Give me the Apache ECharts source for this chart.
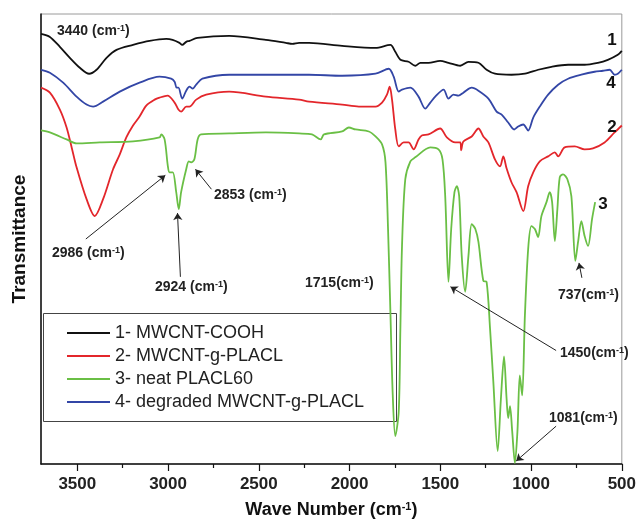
<!DOCTYPE html>
<html>
<head>
<meta charset="utf-8">
<script src="https://cdn.jsdelivr.net/npm/echarts@6/dist/echarts.min.js"></script>
<style>
html, body { margin: 0; padding: 0; background: #fff; }
#main { width: 639px; height: 524px; }
</style>
</head>
<body>
<div id="main"></div>
<script>
// FTIR spectra, x = wave number (cm-1), y = transmittance (arbitrary units, offset traces)
var seriesNames = ['1- MWCNT-COOH', '2- MWCNT-g-PLACL', '3- neat PLACL60', '4- degraded MWCNT-g-PLACL'];
var seriesColors = ['#111111', '#e3262b', '#6abf45', '#3346a6'];

var majorTicks = [500, 1000, 1500, 2000, 2500, 3000, 3500];
var minorTicks = [750, 1250, 1750, 2250, 2750, 3250];

var mwcntCooh = [
    [3700, 432], [3651, 429], [3596, 419], [3541, 408], [3486, 398], [3435, 392], [3394, 396],
    [3339, 408], [3284, 416], [3193, 421], [3102, 425], [3010, 427], [2975, 426], [2937, 423],
    [2922, 421], [2900, 424], [2882, 425], [2838, 428], [2663, 430], [2461, 426], [2351, 423],
    [2315, 422], [2278, 423], [2223, 423], [2041, 420], [1857, 418], [1775, 421], [1748, 414],
    [1720, 406], [1675, 404], [1638, 400], [1610, 403], [1565, 403], [1501, 405], [1455, 403],
    [1390, 400], [1345, 404], [1290, 403], [1245, 396], [1199, 392], [1108, 391], [1034, 392],
    [961, 396], [888, 399], [796, 401], [705, 401], [632, 403], [577, 406], [522, 411], [500, 415]
];

var mwcntGPlacl = [
    [3700, 378], [3651, 373], [3596, 356], [3559, 338], [3531, 318], [3504, 298], [3449, 266],
    [3404, 249], [3358, 266], [3303, 296], [3266, 311], [3230, 328], [3193, 340], [3157, 349],
    [3120, 360], [3074, 366], [3047, 368], [3003, 370], [2964, 363], [2943, 356], [2928, 354],
    [2900, 359], [2882, 359], [2845, 366], [2790, 371], [2663, 374], [2461, 369], [2278, 366],
    [2223, 364], [2041, 361], [1949, 359], [1857, 359], [1821, 363], [1794, 371], [1779, 379],
    [1766, 366], [1748, 336], [1729, 319], [1702, 323], [1675, 323], [1647, 316], [1620, 326],
    [1602, 330], [1565, 331], [1501, 337], [1464, 328], [1418, 323], [1390, 323], [1385, 315],
    [1373, 324], [1327, 329], [1290, 337], [1263, 329], [1235, 323], [1199, 306], [1171, 299],
    [1153, 309], [1135, 297], [1108, 283], [1080, 273], [1043, 254], [1016, 279], [988, 293],
    [952, 304], [906, 309], [869, 313], [851, 309], [815, 318], [759, 319], [705, 316],
    [659, 317], [595, 323], [540, 333], [500, 340]
];

var neatPlacl60 = [
    [3700, 335], [3651, 333], [3559, 326], [3504, 322], [3376, 323], [3193, 324], [3047, 328],
    [3037, 331], [3019, 326], [3001, 299], [2992, 293], [2974, 293], [2955, 273], [2941, 256],
    [2928, 273], [2900, 296], [2886, 304], [2873, 303], [2855, 306], [2837, 326], [2818, 331],
    [2663, 332], [2461, 333], [2278, 332], [2207, 331], [2159, 326], [2141, 331], [2041, 334],
    [2004, 338], [1967, 336], [1894, 334], [1857, 329], [1821, 321], [1802, 303], [1788, 236],
    [1775, 153], [1762, 69], [1748, 28], [1729, 53], [1720, 136], [1711, 219], [1693, 286],
    [1665, 304], [1638, 308], [1555, 318], [1510, 316], [1488, 306], [1473, 269], [1455, 183],
    [1440, 236], [1422, 273], [1409, 279], [1396, 269], [1382, 209], [1363, 173], [1345, 209],
    [1327, 241], [1307, 236], [1290, 223], [1263, 184], [1245, 183], [1226, 136], [1208, 83],
    [1184, 13], [1166, 66], [1149, 108], [1135, 66], [1126, 46], [1116, 58], [1104, 33],
    [1089, 1], [1075, 33], [1062, 89], [1049, 69], [1034, 149], [1016, 216], [998, 239],
    [979, 236], [961, 228], [943, 249], [915, 263], [897, 273], [884, 263], [869, 224],
    [855, 256], [842, 288], [824, 291], [800, 286], [778, 269], [756, 204], [741, 223],
    [723, 244], [705, 229], [686, 219], [664, 246], [647, 263]
];

var degradedMwcnt = [
    [3700, 396], [3651, 393], [3578, 383], [3504, 369], [3449, 361], [3413, 359], [3358, 364],
    [3266, 374], [3157, 383], [3047, 389], [2983, 387], [2964, 384], [2953, 378], [2943, 378],
    [2922, 367], [2900, 375], [2882, 379], [2864, 377], [2845, 381], [2811, 387], [2663, 391],
    [2223, 391], [2041, 390], [1857, 392], [1784, 397], [1757, 389], [1729, 374], [1711, 376],
    [1665, 378], [1620, 369], [1583, 357], [1555, 363], [1528, 369], [1482, 376], [1455, 367],
    [1428, 371], [1400, 370], [1373, 373], [1327, 378], [1290, 375], [1235, 367], [1190, 354],
    [1162, 351], [1126, 343], [1093, 336], [1071, 339], [1043, 341], [1016, 335], [988, 348],
    [952, 359], [906, 371], [851, 381], [796, 387], [723, 391], [650, 394], [604, 395],
    [567, 396], [540, 391], [522, 392], [500, 396]
];

// peak arrows: tail -> head, in data units
var arrowTails = [[3453, 226], [2932, 188], [2761, 276], [862, 114], [862, 38], [720, 187]];
var arrowHeads = [[3015, 290], [2948, 252], [2849, 296], [1444, 178], [1082, 3], [736, 202]];

var peakLabels = ['3440 (cm', '2986 (cm', '2924 (cm', '2853 (cm', '1715(cm', '1450(cm', '1081(cm', '737(cm'];
var curveNumbers = ['1', '4', '2', '3'];

var FONT = '"Liberation Sans", Arial, Helvetica, sans-serif';

var chart = echarts.init(document.getElementById('main'));

var arrowData = arrowTails.map(function (t, i) {
    return [{ coord: t }, { coord: arrowHeads[i] }];
});

function peakText(str, x, y) {
    return {
        type: 'text',
        x: x,
        y: y,
        z: 50,
        style: {
            text: '{n|' + str + '}{s|-1}{n|)}',
            verticalAlign: 'middle',
            align: 'left',
            rich: {
                n: { fontSize: 14, fontWeight: 'bold', fontFamily: FONT, fill: '#222' },
                s: { fontSize: 9, fontWeight: 'bold', fontFamily: FONT, fill: '#222', verticalAlign: 'top' }
            }
        }
    };
}

function numText(str, x, y) {
    return {
        type: 'text',
        x: x,
        y: y,
        z: 50,
        style: {
            text: str,
            align: 'center',
            verticalAlign: 'middle',
            font: 'bold 17px ' + FONT,
            fill: '#111'
        }
    };
}

var lineSeries = [mwcntCooh, mwcntGPlacl, neatPlacl60, degradedMwcnt].map(function (d, i) {
    var s = {
        name: seriesNames[i],
        type: 'line',
        data: d,
        symbol: 'none',
        smooth: 0.3,
        color: seriesColors[i],
        lineStyle: { width: 1.8, color: seriesColors[i] },
        emphasis: { disabled: true },
        z: 3
    };
    return s;
});

lineSeries[2].markLine = {
    silent: true,
    animation: false,
    symbol: ['none', 'arrow'],
    symbolSize: 7,
    label: { show: false },
    lineStyle: { color: '#222', width: 1, type: 'solid' },
    data: arrowData
};

var option = {
    animation: false,
    backgroundColor: '#fff',
    grid: {
        left: 41, right: 15, top: 14, bottom: 58,
        show: true,
        borderColor: '#9a9a9a',
        borderWidth: 1
    },
    legend: {
        orient: 'vertical',
        left: 67,
        top: 324,
        padding: 0,
        itemGap: 5,
        itemWidth: 43,
        itemHeight: 2,
        icon: 'rect',
        data: seriesNames,
        textStyle: { fontSize: 18, fontFamily: FONT, color: '#222' }
    },
    xAxis: [{
        type: 'value',
        inverse: true,
        min: 500,
        max: 3700,
        name: '{a|Wave Number (cm}{b|-1}{a|)}',
        nameLocation: 'middle',
        nameGap: 37,
        nameTextStyle: {
            rich: {
                a: { fontSize: 18, fontWeight: 'bold', fontFamily: FONT, color: '#111' },
                b: { fontSize: 11, fontWeight: 'bold', fontFamily: FONT, color: '#111', verticalAlign: 'top' }
            }
        },
        axisLine: { show: true, lineStyle: { color: '#111', width: 1.5 } },
        axisTick: { show: true, inside: false, length: 7, customValues: majorTicks, lineStyle: { color: '#111', width: 1.2 } },
        axisLabel: {
            customValues: majorTicks,
            margin: 12,
            fontSize: 17,
            fontWeight: 'bold',
            fontFamily: FONT,
            color: '#222',
            formatter: function (v) { return String(v); }
        },
        splitLine: { show: false }
    }, {
        type: 'value',
        inverse: true,
        min: 500,
        max: 3700,
        position: 'bottom',
        axisLine: { show: false },
        axisTick: { show: true, inside: false, length: 4, customValues: minorTicks, lineStyle: { color: '#111', width: 1.2 } },
        axisLabel: { show: false },
        splitLine: { show: false }
    }],
    yAxis: {
        type: 'value',
        min: 0,
        max: 452,
        name: 'Transmittance',
        nameLocation: 'middle',
        nameGap: 12,
        nameTextStyle: { fontSize: 19, fontWeight: 'bold', fontFamily: FONT, color: '#111' },
        axisLine: { show: true, lineStyle: { color: '#111', width: 1.5 } },
        axisTick: { show: false },
        axisLabel: { show: false },
        splitLine: { show: false }
    },
    graphic: [
        {
            type: 'rect',
            z: 1,
            shape: { x: 43.5, y: 313.5, width: 353, height: 108 },
            style: { fill: 'none', stroke: '#444', lineWidth: 1 }
        },
        peakText(peakLabels[0], 57, 31),
        peakText(peakLabels[1], 52, 253),
        peakText(peakLabels[2], 155, 287),
        peakText(peakLabels[3], 214, 195),
        peakText(peakLabels[4], 305, 283),
        peakText(peakLabels[5], 560, 353),
        peakText(peakLabels[6], 549, 418),
        peakText(peakLabels[7], 558, 295),
        numText(curveNumbers[0], 612, 40),
        numText(curveNumbers[1], 611, 83),
        numText(curveNumbers[2], 612, 127),
        numText(curveNumbers[3], 603, 204)
    ],
    series: lineSeries
};

chart.setOption(option);
</script>
</body>
</html>
